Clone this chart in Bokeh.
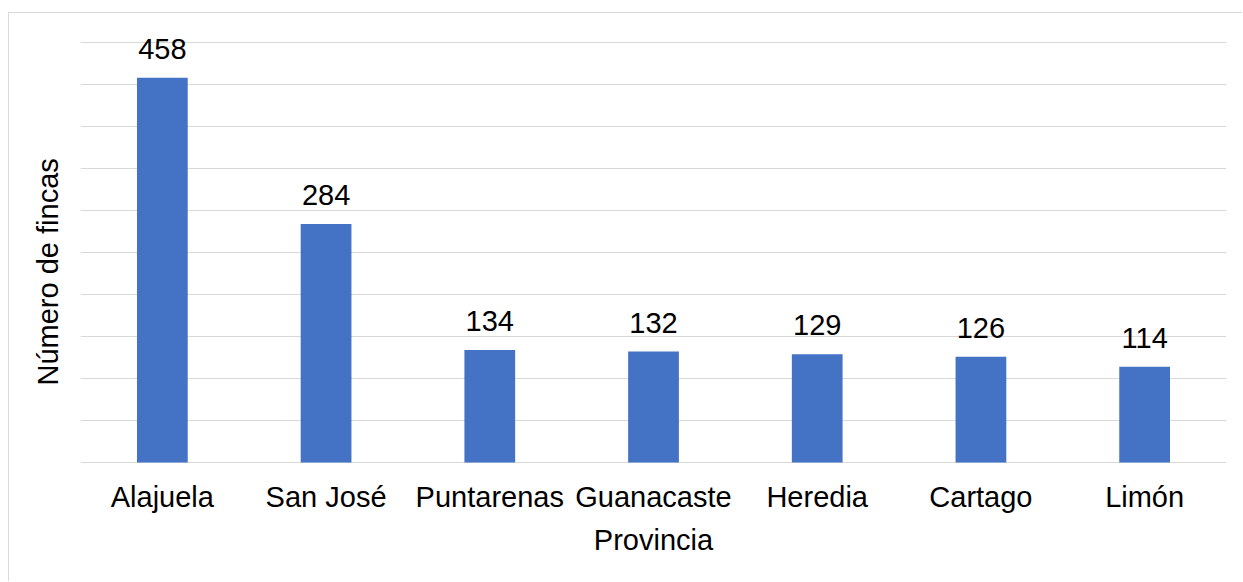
from bokeh.plotting import figure
from bokeh.models import ColumnDataSource, FixedTicker, Title
from bokeh.core.properties import value
from bokeh.embed import file_html
from bokeh.resources import INLINE

provincias = ["Alajuela", "San José", "Puntarenas", "Guanacaste", "Heredia", "Cartago", "Limón"]
fincas = [458, 284, 134, 132, 129, 126, 114]
y_ticks = [0, 50, 100, 150, 200, 250, 300, 350, 400, 450, 500]

FONT = "Liberation Sans"
FS = "29px"
BAR = "#4472C4"
GRID = "#d9d9d9"

src = ColumnDataSource(dict(prov=provincias, n=fincas, lbl=[str(v) for v in fincas]))

p = figure(x_range=provincias, y_range=(-1.19, 521.4), width=1234, height=569,
           output_backend="svg", toolbar_location=None,
           min_border_left=71, min_border_right=17, min_border_top=11, min_border_bottom=119)
p.margin = (12, 0, 0, 8)
p.styles = {"border-top": "1px solid #d9d9d9", "border-left": "1px solid #d9d9d9"}
p.outline_line_color = None
p.background_fill_color = "white"
p.border_fill_color = "white"

p.vbar(x="prov", top="n", width=0.31, source=src, fill_color=BAR, line_color=None)
p.text(x="prov", y="n", text="lbl", source=src, text_align="center", text_baseline="alphabetic",
       y_offset=-29, text_font=value(FONT), text_font_size=FS, text_color="black")

p.xgrid.grid_line_color = None
p.ygrid.grid_line_color = GRID
p.ygrid.grid_line_width = 1
p.yaxis.ticker = FixedTicker(ticks=y_ticks)
p.ygrid.ticker = FixedTicker(ticks=y_ticks)
p.yaxis.visible = False

p.xaxis.axis_line_color = None
p.xaxis.major_tick_line_color = None
p.xaxis.major_tick_out = 0
p.xaxis.major_label_standoff = 17
p.xaxis.major_label_text_font = FONT
p.xaxis.major_label_text_font_size = FS
p.xaxis.major_label_text_color = "black"
p.xaxis.axis_label = "Provincia"
p.xaxis.axis_label_text_font = FONT
p.xaxis.axis_label_text_font_size = FS
p.xaxis.axis_label_text_font_style = "normal"
p.xaxis.axis_label_text_color = "black"
p.xaxis.axis_label_standoff = 8

ytitle = Title(text="Número de fincas", align="left", offset=78, standoff=34,
               text_font=FONT, text_font_size=FS, text_font_style="normal", text_color="black")
p.add_layout(ytitle, "left")

open("out.html", "w").write(file_html(p, INLINE))
